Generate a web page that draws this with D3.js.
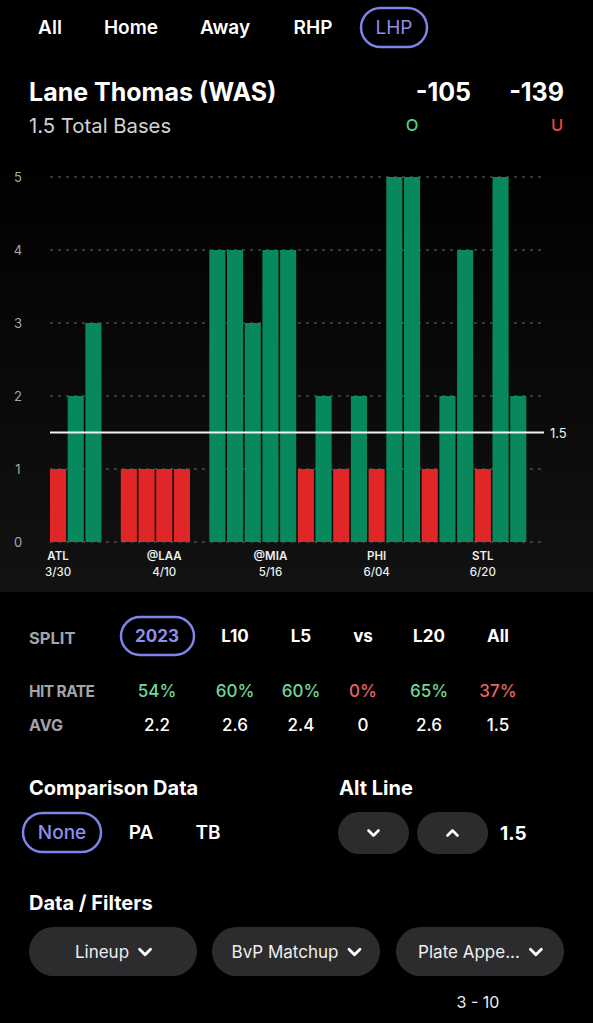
<!DOCTYPE html>
<html><head><meta charset="utf-8">
<script src="https://cdn.jsdelivr.net/npm/d3@7"></script>
<style>
html,body{margin:0;padding:0;background:#000;}
svg{display:block;font-family:Inter,"Open Sans",sans-serif;}
</style></head>
<body>
<script>
// ---- data ----
const values = [1,2,3,0,1,1,1,1,0,4,4,3,4,4,1,2,1,2,1,5,5,1,2,4,1,5,2,0];
const line = 1.5;
const yTicks = [0,1,2,3,4,5];
const labelIdx = [0,6,12,18,24];
const labelTeams = ["ATL","@LAA","@MIA","PHI","STL"];
const labelDates = ["3/30","4/10","5/16","6/04","6/20"];
const tabs = ["All","Home","Away","RHP","LHP"];
const splits = ["2023","L10","L5","vs","L20","All"];
const hitRates = [54,60,60,0,65,37];
const avgs = ["2.2","2.6","2.4","0","2.6","1.5"];
const filters = ["Lineup","BvP Matchup","Plate Appe..."];

const W = 593, H = 1023;
const purple = "#7f83ea", green = "#07895d", red = "#e02626";
const svg = d3.select("body").append("svg").attr("width", W).attr("height", H);
svg.append("rect").attr("width", W).attr("height", H).attr("fill", "#000");

// ---- tabs ----
const tabX = [50,131,225,313,394];
svg.append("rect").attr("x",361).attr("y",8).attr("width",66).attr("height",39).attr("rx",19.5)
  .attr("fill","none").attr("stroke",purple).attr("stroke-width",2.5);
svg.selectAll(".tab").data(tabs).join("text")
  .attr("x",(d,i)=>tabX[i]).attr("y",34).attr("text-anchor","middle")
  .attr("font-size",19).attr("font-weight",(d,i)=>i===4?400:600)
  .attr("fill",(d,i)=>i===4?"#8c8ff0":"#fff").text(d=>d);

// ---- title ----
svg.append("text").attr("x",29).attr("y",101).attr("font-size",25).attr("font-weight",700).attr("fill","#fff").text("Lane Thomas (WAS)");
svg.append("text").attr("x",29).attr("y",133).attr("font-size",20.3).attr("fill","#d2d2d8").text("1.5 Total Bases");
svg.append("text").attr("x",471).attr("y",101).attr("text-anchor","end").attr("font-size",25).attr("font-weight",700).attr("fill","#fff").text("-105");
svg.append("text").attr("x",564).attr("y",101).attr("text-anchor","end").attr("font-size",25).attr("font-weight",700).attr("fill","#fff").text("-139");
svg.append("text").attr("x",412).attr("y",131).attr("text-anchor","middle").attr("font-size",16.5).attr("font-weight",500).attr("fill","#4bd483").text("O");
svg.append("text").attr("x",557).attr("y",131).attr("text-anchor","middle").attr("font-size",16.5).attr("font-weight",500).attr("fill","#ef4444").text("U");

// ---- chart panel ----
const defs = svg.append("defs");
const g1 = defs.append("linearGradient").attr("id","pg").attr("x1",0).attr("y1",0).attr("x2",0).attr("y2",1);
g1.append("stop").attr("offset","0%").attr("stop-color","#000");
g1.append("stop").attr("offset","100%").attr("stop-color","#121212");
svg.append("rect").attr("x",0).attr("y",148).attr("width",W).attr("height",444).attr("fill","url(#pg)");

const x = d3.scaleBand().domain(d3.range(values.length)).range([50,544]).paddingInner(0.09).paddingOuter(0);
const y = d3.scaleLinear().domain([0,5]).range([542,177]);

const grid = svg.append("g");
grid.selectAll("line").data(yTicks).join("line")
  .attr("x1",50).attr("x2",544).attr("y1",d=>y(d)).attr("y2",d=>y(d))
  .attr("stroke","#6a6a6a").attr("stroke-width",1).attr("stroke-dasharray","3,5");
const yAxis = d3.axisLeft(y).tickValues(yTicks).tickSize(0).tickFormat(d3.format("d"));
const ya = svg.append("g").attr("transform","translate(24,0)").call(yAxis);
ya.select(".domain").remove();
ya.selectAll("text").attr("font-size",13).attr("fill","#a8a8a8").attr("text-anchor","middle").attr("x",-6).attr("font-family","Inter,sans-serif");

svg.append("g").selectAll("rect").data(values).join("rect")
  .attr("x",(d,i)=>x(i)).attr("width",x.bandwidth())
  .attr("y",d=>y(d)).attr("height",d=>y(0)-y(d))
  .attr("fill",d=>d>line?green:red);

svg.append("line").attr("x1",50).attr("x2",544).attr("y1",y(line)).attr("y2",y(line)).attr("stroke","#f2f2f2").attr("stroke-width",2);
svg.append("text").attr("x",550).attr("y",y(line)+5).attr("font-size",13).attr("fill","#f2f2f2").text(line);

const xl = svg.append("g");
xl.selectAll(".tm").data(labelIdx).join("text")
  .attr("x",i=>x(i)+x.bandwidth()/2).attr("y",560).attr("text-anchor","middle")
  .attr("font-size",11.5).attr("font-weight",600).attr("fill","#eee").text((d,k)=>labelTeams[k]);
xl.selectAll(".dt").data(labelIdx).join("text")
  .attr("x",i=>x(i)+x.bandwidth()/2).attr("y",576).attr("text-anchor","middle")
  .attr("font-size",11.5).attr("font-weight",500).attr("fill","#eee").text((d,k)=>labelDates[k]);

// ---- split table ----
const colX = [157,235,301,363,429,498];
svg.append("text").attr("x",29).attr("y",644).attr("font-size",16.5).attr("font-weight",700).attr("fill","#a3a3ab").text("SPLIT");
svg.append("text").attr("x",29).attr("y",697).attr("font-size",15.5).attr("font-weight",700).attr("fill","#a3a3ab").attr("textLength",66).text("HIT RATE");
svg.append("text").attr("x",29).attr("y",731).attr("font-size",16).attr("font-weight",700).attr("fill","#a3a3ab").text("AVG");
svg.append("rect").attr("x",121).attr("y",617).attr("width",73).attr("height",38).attr("rx",19)
  .attr("fill","none").attr("stroke",purple).attr("stroke-width",2.5);
svg.selectAll(".sp").data(splits).join("text")
  .attr("x",(d,i)=>colX[i]).attr("y",642).attr("text-anchor","middle")
  .attr("font-size",17).attr("font-weight",700).attr("fill",(d,i)=>i===0?"#8c8ff0":"#fff").text(d=>d);
svg.selectAll(".hr").data(hitRates).join("text")
  .attr("x",(d,i)=>colX[i]).attr("y",697).attr("text-anchor","middle")
  .attr("font-size",17).attr("font-weight",500).attr("fill",d=>d>50?"#6fd89a":"#e56565").text(d=>d+"%");
svg.selectAll(".av").data(avgs).join("text")
  .attr("x",(d,i)=>colX[i]).attr("y",731).attr("text-anchor","middle")
  .attr("font-size",17).attr("font-weight",500).attr("fill","#fff").text(d=>d);

// ---- comparison / alt line ----
svg.append("text").attr("x",29).attr("y",795).attr("font-size",20).attr("font-weight",700).attr("fill","#fff").text("Comparison Data");
svg.append("text").attr("x",339).attr("y",795).attr("font-size",20).attr("font-weight",700).attr("fill","#fff").text("Alt Line");
svg.append("rect").attr("x",23).attr("y",813).attr("width",78).attr("height",39).attr("rx",19.5)
  .attr("fill","none").attr("stroke",purple).attr("stroke-width",2.5);
svg.append("text").attr("x",62).attr("y",839).attr("text-anchor","middle").attr("font-size",19).attr("font-weight",500).attr("fill","#8c8ff0").text("None");
svg.append("text").attr("x",141).attr("y",839).attr("text-anchor","middle").attr("font-size",19).attr("font-weight",600).attr("fill","#fff").text("PA");
svg.append("text").attr("x",208).attr("y",839).attr("text-anchor","middle").attr("font-size",19).attr("font-weight",600).attr("fill","#fff").text("TB");
[[338,"down"],[417,"up"]].forEach(([bx,dir])=>{
  svg.append("rect").attr("x",bx).attr("y",812).attr("width",71).attr("height",42).attr("rx",21).attr("fill","#2c2c2e");
  const cx = bx+35.5, cy = 833;
  const p = dir==="down" ? `M${cx-5},${cy-2.5} L${cx},${cy+2.5} L${cx+5},${cy-2.5}` : `M${cx-5},${cy+2.5} L${cx},${cy-2.5} L${cx+5},${cy+2.5}`;
  svg.append("path").attr("d",p).attr("fill","none").attr("stroke","#fff").attr("stroke-width",2.6).attr("stroke-linecap","round").attr("stroke-linejoin","round");
});
svg.append("text").attr("x",500).attr("y",840).attr("font-size",19).attr("font-weight",700).attr("fill","#fff").text(line);

// ---- data / filters ----
svg.append("text").attr("x",29).attr("y",910).attr("font-size",20).attr("font-weight",700).attr("fill","#fff").text("Data / Filters");
const fx = [29,212,396];
filters.forEach((f,i)=>{
  svg.append("rect").attr("x",fx[i]).attr("y",927).attr("width",168).attr("height",49).attr("rx",24.5).attr("fill","#2c2c2e");
  const t = svg.append("text").attr("y",958).attr("font-size",17).attr("fill","#eee").text(f);
  const tw = t.node().getComputedTextLength();
  const gw = tw + 10 + 12;
  const sx = fx[i] + 84 - gw/2;
  t.attr("x", sx);
  const cx = sx + tw + 10 + 6, cy = 952;
  svg.append("path").attr("d",`M${cx-5.5},${cy-2.8} L${cx},${cy+2.8} L${cx+5.5},${cy-2.8}`).attr("fill","none").attr("stroke","#fff").attr("stroke-width",2.8).attr("stroke-linecap","round").attr("stroke-linejoin","round");
});
svg.append("text").attr("x",478).attr("y",1008).attr("text-anchor","middle").attr("font-size",16).attr("fill","#eee").text("3 - 10");
</script>
</body></html>
